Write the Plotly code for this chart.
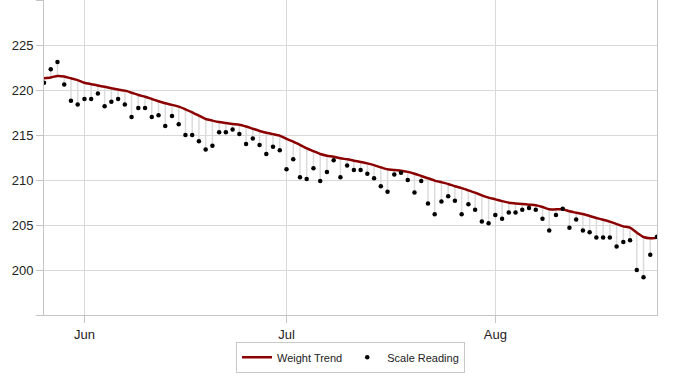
import pandas as pd
import plotly.graph_objects as go

start_date = "2023-05-26"
n_days = 92
dates = pd.date_range(start_date, periods=n_days, freq="D")

scale_reading = [
    220.8, 222.3, 223.1, 220.6, 218.8, 218.4, 219.0, 219.0, 219.6, 218.2,
    218.7, 219.0, 218.4, 217.0, 218.0, 218.0, 217.0, 217.2, 216.0, 217.1,
    216.2, 215.0, 215.0, 214.3, 213.4, 213.8, 215.3, 215.3, 215.6, 215.1,
    214.0, 214.6, 213.9, 212.9, 213.7, 213.3, 211.2, 212.3, 210.3, 210.1,
    211.3, 209.9, 210.9, 212.2, 210.3, 211.6, 211.1, 211.1, 210.7, 210.2,
    209.3, 208.7, 210.6, 210.8, 210.0, 208.6, 209.9, 207.4, 206.2, 207.6,
    208.2, 207.7, 206.2, 207.3, 206.7, 205.4, 205.2, 206.1, 205.7, 206.4,
    206.4, 206.7, 206.9, 206.7, 205.7, 204.4, 206.1, 206.8, 204.7, 205.6,
    204.4, 204.2, 203.6, 203.6, 203.6, 202.6, 203.1, 203.3, 200.0, 199.2,
    201.7, 203.7,
]

weight_trend = [
    221.3, 221.4, 221.56, 221.5, 221.3, 221.1, 220.8, 220.65, 220.5, 220.35,
    220.2, 220.05, 219.93, 219.7, 219.45, 219.25, 219.0, 218.75, 218.52, 218.35,
    218.15, 217.85, 217.52, 217.15, 216.78, 216.6, 216.44, 216.33, 216.22, 216.15,
    215.95, 215.7, 215.45, 215.26, 215.1, 214.93, 214.56, 214.26, 213.9, 213.52,
    213.2, 212.89, 212.7, 212.59, 212.41, 212.3, 212.15, 212.0, 211.85, 211.65,
    211.41, 211.19, 211.1, 211.04, 210.9, 210.7, 210.45, 210.2, 209.93, 209.75,
    209.56, 209.3, 209.1, 208.85, 208.59, 208.3, 208.04, 207.85, 207.65, 207.48,
    207.4, 207.33, 207.26, 207.19, 207.0, 206.74, 206.74, 206.74, 206.52, 206.37,
    206.22, 206.0, 205.78, 205.58, 205.37, 205.1, 204.85, 204.7, 204.15, 203.67,
    203.52, 203.59,
]

month_ticks = ["2023-06-01", "2023-07-01", "2023-08-01"]
month_labels = ["Jun", "Jul", "Aug"]
y_ticks = [195, 200, 205, 210, 215, 220, 225, 230]
y_labels = ["", "200", "205", "210", "215", "220", "225", ""]

# drop lines between trend and readings
drop_x, drop_y = [], []
for d, t, s in zip(dates, weight_trend, scale_reading):
    drop_x += [d, d, None]
    drop_y += [t, s, None]

fig = go.Figure()
fig.add_trace(go.Scatter(
    x=drop_x, y=drop_y, mode="lines",
    line=dict(color="#dcdcdc", width=1.5),
    hoverinfo="skip", showlegend=False,
))
fig.add_trace(go.Scatter(
    x=dates, y=weight_trend, mode="lines", name="Weight Trend",
    line=dict(color="#8b0000", width=2.5, shape="spline", smoothing=0.6),
))
fig.add_trace(go.Scatter(
    x=dates, y=scale_reading, mode="markers", name="Scale Reading",
    marker=dict(color="#000000", size=4.5, symbol="circle"),
))

axis_font = dict(family="Liberation Sans, Arial, sans-serif", size=13, color="#222222")

fig.update_layout(
    width=700, height=380,
    margin=dict(l=44, r=43, t=0, b=65),
    paper_bgcolor="white", plot_bgcolor="white",
    font=axis_font,
    xaxis=dict(
        range=[dates[0], dates[-1]],
        tickvals=month_ticks, ticktext=month_labels,
        showgrid=True, gridcolor="#d9d9d9", gridwidth=1,
        showline=True, linecolor="#c4c4c4", linewidth=1, mirror=True,
        ticks="outside", ticklen=7, tickcolor="#c4c4c4",
        tickfont=axis_font, zeroline=False,
    ),
    yaxis=dict(
        range=[195, 230],
        tickvals=y_ticks, ticktext=y_labels,
        showgrid=True, gridcolor="#d9d9d9", gridwidth=1,
        showline=True, linecolor="#c4c4c4", linewidth=1, mirror=True,
        ticks="outside", ticklen=7, tickcolor="#c4c4c4",
        tickfont=axis_font, zeroline=False,
    ),
    legend=dict(
        orientation="h", x=0.5, xanchor="center", y=-0.085, yanchor="top",
        bordercolor="#c8c8c8", borderwidth=1, bgcolor="white",
        font=dict(family="Liberation Sans, Arial, sans-serif", size=11, color="#222222"),
        tracegroupgap=0,
    ),
)

fig.write_html(
    "out.html",
    config={"displayModeBar": False},
    post_script="document.body.style.margin='0';document.body.style.padding='0';",
)
